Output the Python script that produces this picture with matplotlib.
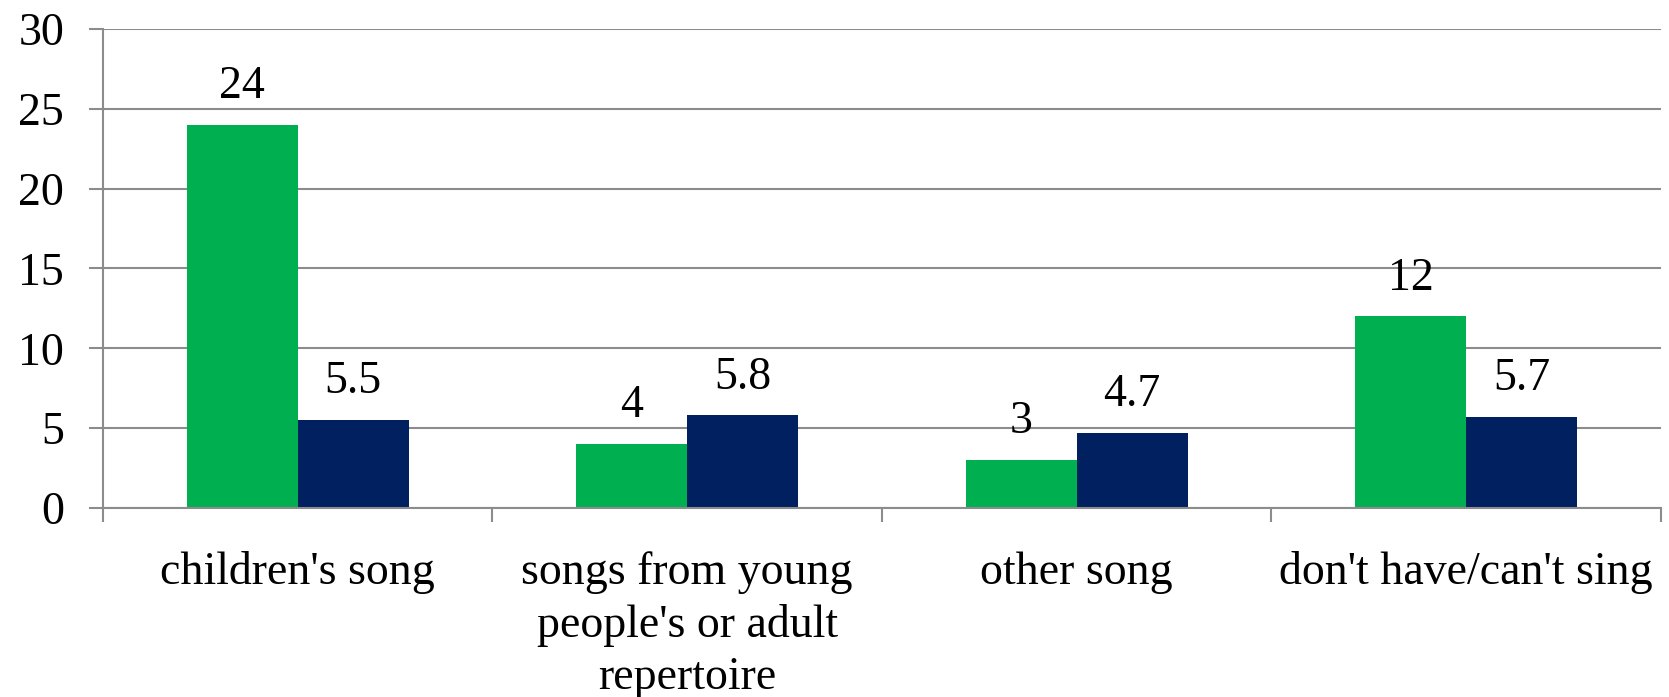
import numpy as np
import matplotlib
matplotlib.use("Agg")
from matplotlib import pyplot as plt

categories = ["children's song", "songs from young\npeople's or adult\nrepertoire",
              "other song", "don't have/can't sing"]
series_green = [24, 4, 3, 12]
series_navy = [5.5, 5.8, 4.7, 5.7]
yticks = [0, 5, 10, 15, 20, 25, 30]

GREEN = '#00B050'
NAVY = '#002060'
GRID = '#8c8c8c'

plt.rcParams['font.family'] = ['Liberation Serif', 'DejaVu Serif']

fig = plt.figure(figsize=(16.69, 6.97), dpi=100)
ax = fig.add_axes([0.0617, 0.2712, 0.9335, 0.6872])

x = np.arange(len(categories))
w = 0.285
b1 = ax.bar(x - w / 2, series_green, w, color=GREEN, zorder=3)
b2 = ax.bar(x + w / 2, series_navy, w, color=NAVY, zorder=3)

for bars, vals in ((b1, series_green), (b2, series_navy)):
    for rect, v in zip(bars, vals):
        ax.annotate(f"{v:g}", (rect.get_x() + rect.get_width() / 2, v),
                    xytext=(0, 12), textcoords='offset points',
                    ha='center', va='bottom', fontsize=33, zorder=4)

ax.set_xlim(-0.5, len(categories) - 0.5)
ax.set_ylim(0, 30)
ax.set_yticks(yticks)
ax.yaxis.grid(True, color=GRID, linewidth=1.5, zorder=0)
ax.tick_params(axis='y', length=10, width=1.5, color=GRID, pad=18, labelsize=33)

ax.set_xticks(np.arange(len(categories) + 1) - 0.5)
ax.set_xticklabels([])
ax.tick_params(axis='x', which='major', length=10, width=1.5, color=GRID)
ax.set_xticks(x, minor=True)
ax.set_xticklabels(categories, minor=True, fontsize=33, linespacing=1.3)
ax.tick_params(axis='x', which='minor', length=0, pad=31)

for s in ('top', 'right'):
    ax.spines[s].set_visible(False)
for s in ('left', 'bottom'):
    ax.spines[s].set_color(GRID)
    ax.spines[s].set_linewidth(1.5)
ax.spines['bottom'].set_zorder(5)

fig.savefig('out.png', dpi=100)
